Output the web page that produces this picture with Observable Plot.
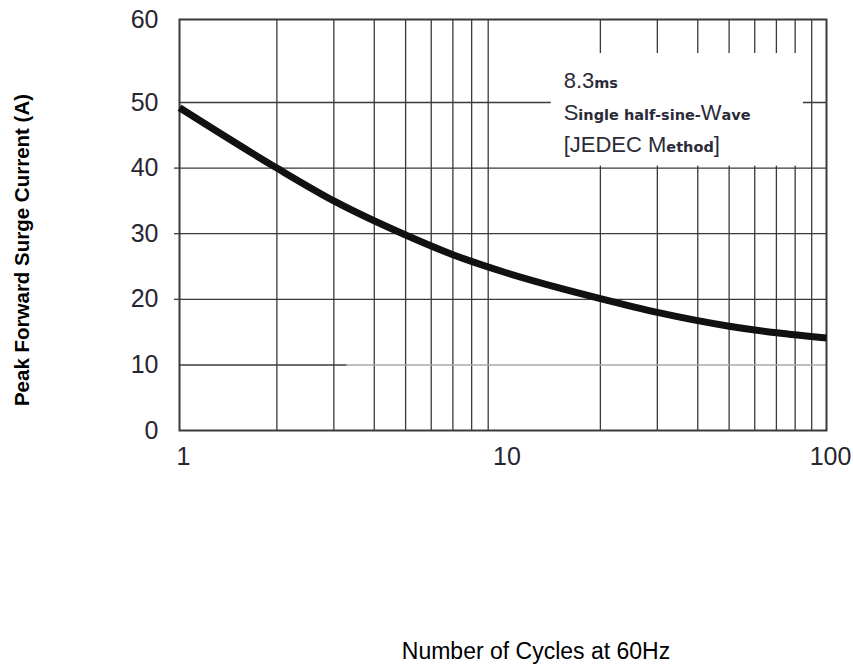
<!DOCTYPE html>
<html><head><meta charset="utf-8">
<script src="https://cdn.jsdelivr.net/npm/d3@7"></script>
<script src="https://cdn.jsdelivr.net/npm/@observablehq/plot@0.6"></script>
<style>
body{margin:0;background:#fff;}
#chart{width:853px;height:664px;}
</style></head><body><div id="chart"></div>
<script>
// ---- data ----
const cycles = [1, 2, 3, 5, 7, 10, 15, 20, 30, 50, 70, 100];
const surgeCurrent = [49.2, 40, 35, 29.8, 26.8, 24.2, 21.7, 20.1, 18.0, 15.9, 14.9, 14.1];
const xTicks = [1, 10, 100];
const yTicks = [0, 10, 20, 30, 40, 50, 60];
const xGrid = [2, 3, 4, 5, 6, 7, 8, 9, 20, 30, 40, 50, 60, 70, 80, 90];
const yGrid = [20, 30, 40];
const yStubs = [20, 30, 40];
const tenLine = [{x1: 1, x2: 3.3, c: "#3a3a3a"}, {x1: 3.3, x2: 100, c: "#a8a8a8"}];
const noteBox = [{x1: 14.1, x2: 84.9, y1: 40.3, y2: 55.9}];
const annotationLines = ["8.3{ms}", "S{ingle half-sine-}W{ave}", "[JEDEC M{ethod}]"];
const annotationY = [51.7, 47.3, 42.4];
const annotationX = 15.4;
const xTitle = "Number of Cycles at 60Hz";
const yTitle = "Peak Forward Surge Current (A)";

const curve = cycles.map((c, i) => ({x: c, y: surgeCurrent[i]}));
const stripped = annotationLines.map(t => t.replace(/[{}]/g, ""));
const notes = annotationLines.map((t, i) => ({t: stripped[i], x: annotationX, y: annotationY[i]}));
const gridColor = "#3a3a3a";

const chart = Plot.plot({
  width: 853, height: 664,
  marginLeft: 179, marginRight: 27, marginTop: 19, marginBottom: 234,
  x: {type: "log", domain: [1, 100]},
  y: {type: "linear", domain: [0, 50, 60], range: [430, 102, 19]},
  style: {fontFamily: "'Liberation Sans', Arial, sans-serif", background: "#fff"},
  marks: [
    Plot.ruleX(xGrid, {stroke: gridColor, strokeWidth: 1.3}),
    Plot.ruleY([50], {stroke: gridColor, strokeWidth: 1.3}),
    Plot.rect(noteBox, {x1: "x1", x2: "x2", y1: "y1", y2: "y2", fill: "#fff"}),
    Plot.ruleY(yGrid, {stroke: gridColor, strokeWidth: 1.3}),
    Plot.ruleY(tenLine, {y: () => 10, x1: "x1", x2: "x2", stroke: "c", strokeWidth: 1.5}),
    Plot.frame({stroke: gridColor, strokeWidth: 2}),
    Plot.axisY({ticks: yStubs, tickSize: 5, tickFormat: () => "", stroke: gridColor, strokeWidth: 1.3, label: null}),
    Plot.axisY({ticks: yTicks, tickSize: 0, tickPadding: 21, fontSize: 25, color: "#262630", label: null}),
    Plot.axisX({ticks: xTicks, tickSize: 0, tickPadding: 17, dx: 4, fontSize: 25, color: "#262630", label: null, tickFormat: d => String(d)}),
    Plot.line(curve, {x: "x", y: "y", curve: "monotone-x", stroke: "#111", strokeWidth: 7, strokeLinecap: "butt"}),
    Plot.text(notes, {x: "x", y: "y", text: "t", textAnchor: "start", lineAnchor: "bottom", fontSize: 22, fill: "#2b2b38"}),
    Plot.text([yTitle], {frameAnchor: "left", textAnchor: "middle", lineAnchor: "middle", rotate: -90, dx: -157, dy: 25, fontSize: 20.5, fontWeight: "bold", fill: "#000"}),
    Plot.text([xTitle], {frameAnchor: "bottom", textAnchor: "middle", lineAnchor: "middle", dx: 33, dy: 221, fontSize: 23, fill: "#000"})
  ]
});

d3.select(chart).selectAll("text").filter(function() {
  return stripped.includes(this.textContent);
}).each(function() {
  const i = stripped.indexOf(this.textContent);
  const sel = d3.select(this);
  sel.text("");
  annotationLines[i].split(/(\{[^}]*\})/).filter(Boolean).forEach(seg => {
    const small = seg.startsWith("{");
    const t = sel.append("tspan").text(small ? seg.slice(1, -1) : seg);
    if (small) t.attr("font-size", 14.5).attr("font-weight", "bold").attr("font-family", "'DejaVu Sans', sans-serif");
  });
});

document.getElementById("chart").appendChild(chart);
</script>
</body></html>
